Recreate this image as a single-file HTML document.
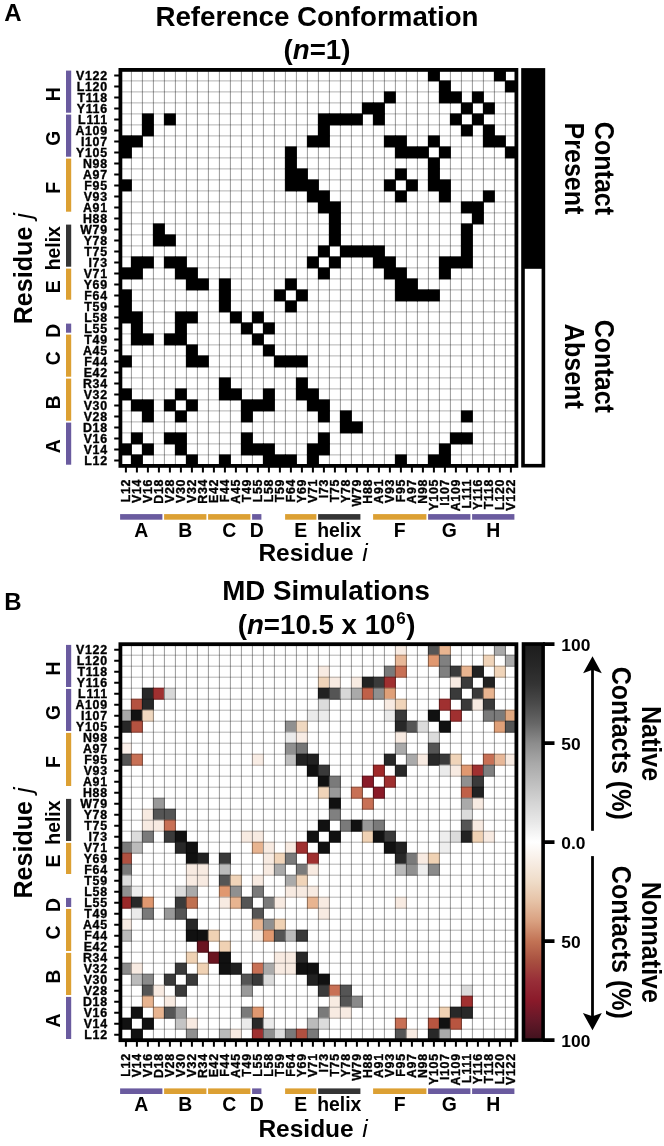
<!DOCTYPE html>
<html><head><meta charset="utf-8"><title>Contact maps</title>
<style>html,body{margin:0;padding:0;background:#fff;width:664px;height:1146px;overflow:hidden}svg{display:block;will-change:transform}text{font-family:"Liberation Sans",sans-serif}</style>
</head><body>
<svg width="664" height="1146" viewBox="0 0 664 1146">
<defs><linearGradient id="cb" x1="0" y1="0" x2="0" y2="1"><stop offset="0" stop-color="#1c1c1c"/><stop offset="0.05" stop-color="#262626"/><stop offset="0.1" stop-color="#333333"/><stop offset="0.15" stop-color="#4a4a4a"/><stop offset="0.2" stop-color="#666666"/><stop offset="0.25" stop-color="#8c8c8c"/><stop offset="0.3" stop-color="#a8a8a8"/><stop offset="0.35" stop-color="#bebebe"/><stop offset="0.4" stop-color="#d4d4d4"/><stop offset="0.45" stop-color="#e8e8e8"/><stop offset="0.5" stop-color="#ffffff"/><stop offset="0.55" stop-color="#f7ede4"/><stop offset="0.6" stop-color="#efdcc8"/><stop offset="0.65" stop-color="#e6c2a6"/><stop offset="0.7" stop-color="#d9a080"/><stop offset="0.75" stop-color="#c27355"/><stop offset="0.8" stop-color="#a85040"/><stop offset="0.85" stop-color="#982e38"/><stop offset="0.9" stop-color="#8a1a2a"/><stop offset="0.95" stop-color="#641828"/><stop offset="1" stop-color="#40121e"/></linearGradient></defs>
<rect x="427.9" y="69.4" width="12" height="12" fill="#000"/>
<rect x="493.9" y="69.4" width="12" height="12" fill="#000"/>
<rect x="438.9" y="80.4" width="12" height="12" fill="#000"/>
<rect x="504.9" y="80.4" width="12" height="12" fill="#000"/>
<rect x="383.9" y="91.4" width="12" height="12" fill="#000"/>
<rect x="438.9" y="91.4" width="12" height="12" fill="#000"/>
<rect x="449.9" y="91.4" width="12" height="12" fill="#000"/>
<rect x="471.9" y="91.4" width="12" height="12" fill="#000"/>
<rect x="361.9" y="102.4" width="12" height="12" fill="#000"/>
<rect x="372.9" y="102.4" width="12" height="12" fill="#000"/>
<rect x="460.9" y="102.4" width="12" height="12" fill="#000"/>
<rect x="482.9" y="102.4" width="12" height="12" fill="#000"/>
<rect x="141.9" y="113.4" width="12" height="12" fill="#000"/>
<rect x="163.9" y="113.4" width="12" height="12" fill="#000"/>
<rect x="317.9" y="113.4" width="12" height="12" fill="#000"/>
<rect x="328.9" y="113.4" width="12" height="12" fill="#000"/>
<rect x="339.9" y="113.4" width="12" height="12" fill="#000"/>
<rect x="350.9" y="113.4" width="12" height="12" fill="#000"/>
<rect x="372.9" y="113.4" width="12" height="12" fill="#000"/>
<rect x="449.9" y="113.4" width="12" height="12" fill="#000"/>
<rect x="471.9" y="113.4" width="12" height="12" fill="#000"/>
<rect x="141.9" y="124.4" width="12" height="12" fill="#000"/>
<rect x="317.9" y="124.4" width="12" height="12" fill="#000"/>
<rect x="460.9" y="124.4" width="12" height="12" fill="#000"/>
<rect x="482.9" y="124.4" width="12" height="12" fill="#000"/>
<rect x="119.9" y="135.4" width="12" height="12" fill="#000"/>
<rect x="130.9" y="135.4" width="12" height="12" fill="#000"/>
<rect x="306.9" y="135.4" width="12" height="12" fill="#000"/>
<rect x="317.9" y="135.4" width="12" height="12" fill="#000"/>
<rect x="383.9" y="135.4" width="12" height="12" fill="#000"/>
<rect x="394.9" y="135.4" width="12" height="12" fill="#000"/>
<rect x="427.9" y="135.4" width="12" height="12" fill="#000"/>
<rect x="482.9" y="135.4" width="12" height="12" fill="#000"/>
<rect x="493.9" y="135.4" width="12" height="12" fill="#000"/>
<rect x="119.9" y="146.4" width="12" height="12" fill="#000"/>
<rect x="284.9" y="146.4" width="12" height="12" fill="#000"/>
<rect x="394.9" y="146.4" width="12" height="12" fill="#000"/>
<rect x="405.9" y="146.4" width="12" height="12" fill="#000"/>
<rect x="416.9" y="146.4" width="12" height="12" fill="#000"/>
<rect x="438.9" y="146.4" width="12" height="12" fill="#000"/>
<rect x="504.9" y="146.4" width="12" height="12" fill="#000"/>
<rect x="284.9" y="157.4" width="12" height="12" fill="#000"/>
<rect x="427.9" y="157.4" width="12" height="12" fill="#000"/>
<rect x="284.9" y="168.4" width="12" height="12" fill="#000"/>
<rect x="295.9" y="168.4" width="12" height="12" fill="#000"/>
<rect x="394.9" y="168.4" width="12" height="12" fill="#000"/>
<rect x="427.9" y="168.4" width="12" height="12" fill="#000"/>
<rect x="119.9" y="179.4" width="12" height="12" fill="#000"/>
<rect x="284.9" y="179.4" width="12" height="12" fill="#000"/>
<rect x="295.9" y="179.4" width="12" height="12" fill="#000"/>
<rect x="306.9" y="179.4" width="12" height="12" fill="#000"/>
<rect x="383.9" y="179.4" width="12" height="12" fill="#000"/>
<rect x="405.9" y="179.4" width="12" height="12" fill="#000"/>
<rect x="427.9" y="179.4" width="12" height="12" fill="#000"/>
<rect x="438.9" y="179.4" width="12" height="12" fill="#000"/>
<rect x="306.9" y="190.4" width="12" height="12" fill="#000"/>
<rect x="317.9" y="190.4" width="12" height="12" fill="#000"/>
<rect x="394.9" y="190.4" width="12" height="12" fill="#000"/>
<rect x="438.9" y="190.4" width="12" height="12" fill="#000"/>
<rect x="482.9" y="190.4" width="12" height="12" fill="#000"/>
<rect x="317.9" y="201.4" width="12" height="12" fill="#000"/>
<rect x="328.9" y="201.4" width="12" height="12" fill="#000"/>
<rect x="460.9" y="201.4" width="12" height="12" fill="#000"/>
<rect x="471.9" y="201.4" width="12" height="12" fill="#000"/>
<rect x="328.9" y="212.4" width="12" height="12" fill="#000"/>
<rect x="471.9" y="212.4" width="12" height="12" fill="#000"/>
<rect x="152.9" y="223.4" width="12" height="12" fill="#000"/>
<rect x="328.9" y="223.4" width="12" height="12" fill="#000"/>
<rect x="460.9" y="223.4" width="12" height="12" fill="#000"/>
<rect x="152.9" y="234.4" width="12" height="12" fill="#000"/>
<rect x="163.9" y="234.4" width="12" height="12" fill="#000"/>
<rect x="328.9" y="234.4" width="12" height="12" fill="#000"/>
<rect x="460.9" y="234.4" width="12" height="12" fill="#000"/>
<rect x="317.9" y="245.4" width="12" height="12" fill="#000"/>
<rect x="339.9" y="245.4" width="12" height="12" fill="#000"/>
<rect x="350.9" y="245.4" width="12" height="12" fill="#000"/>
<rect x="361.9" y="245.4" width="12" height="12" fill="#000"/>
<rect x="372.9" y="245.4" width="12" height="12" fill="#000"/>
<rect x="460.9" y="245.4" width="12" height="12" fill="#000"/>
<rect x="130.9" y="256.4" width="12" height="12" fill="#000"/>
<rect x="141.9" y="256.4" width="12" height="12" fill="#000"/>
<rect x="163.9" y="256.4" width="12" height="12" fill="#000"/>
<rect x="174.9" y="256.4" width="12" height="12" fill="#000"/>
<rect x="306.9" y="256.4" width="12" height="12" fill="#000"/>
<rect x="328.9" y="256.4" width="12" height="12" fill="#000"/>
<rect x="372.9" y="256.4" width="12" height="12" fill="#000"/>
<rect x="383.9" y="256.4" width="12" height="12" fill="#000"/>
<rect x="438.9" y="256.4" width="12" height="12" fill="#000"/>
<rect x="449.9" y="256.4" width="12" height="12" fill="#000"/>
<rect x="460.9" y="256.4" width="12" height="12" fill="#000"/>
<rect x="119.9" y="267.4" width="12" height="12" fill="#000"/>
<rect x="130.9" y="267.4" width="12" height="12" fill="#000"/>
<rect x="174.9" y="267.4" width="12" height="12" fill="#000"/>
<rect x="185.9" y="267.4" width="12" height="12" fill="#000"/>
<rect x="317.9" y="267.4" width="12" height="12" fill="#000"/>
<rect x="383.9" y="267.4" width="12" height="12" fill="#000"/>
<rect x="394.9" y="267.4" width="12" height="12" fill="#000"/>
<rect x="438.9" y="267.4" width="12" height="12" fill="#000"/>
<rect x="185.9" y="278.4" width="12" height="12" fill="#000"/>
<rect x="196.9" y="278.4" width="12" height="12" fill="#000"/>
<rect x="218.9" y="278.4" width="12" height="12" fill="#000"/>
<rect x="284.9" y="278.4" width="12" height="12" fill="#000"/>
<rect x="394.9" y="278.4" width="12" height="12" fill="#000"/>
<rect x="405.9" y="278.4" width="12" height="12" fill="#000"/>
<rect x="119.9" y="289.4" width="12" height="12" fill="#000"/>
<rect x="218.9" y="289.4" width="12" height="12" fill="#000"/>
<rect x="273.9" y="289.4" width="12" height="12" fill="#000"/>
<rect x="295.9" y="289.4" width="12" height="12" fill="#000"/>
<rect x="394.9" y="289.4" width="12" height="12" fill="#000"/>
<rect x="405.9" y="289.4" width="12" height="12" fill="#000"/>
<rect x="416.9" y="289.4" width="12" height="12" fill="#000"/>
<rect x="427.9" y="289.4" width="12" height="12" fill="#000"/>
<rect x="119.9" y="300.4" width="12" height="12" fill="#000"/>
<rect x="218.9" y="300.4" width="12" height="12" fill="#000"/>
<rect x="284.9" y="300.4" width="12" height="12" fill="#000"/>
<rect x="119.9" y="311.4" width="12" height="12" fill="#000"/>
<rect x="130.9" y="311.4" width="12" height="12" fill="#000"/>
<rect x="174.9" y="311.4" width="12" height="12" fill="#000"/>
<rect x="185.9" y="311.4" width="12" height="12" fill="#000"/>
<rect x="229.9" y="311.4" width="12" height="12" fill="#000"/>
<rect x="251.9" y="311.4" width="12" height="12" fill="#000"/>
<rect x="130.9" y="322.4" width="12" height="12" fill="#000"/>
<rect x="174.9" y="322.4" width="12" height="12" fill="#000"/>
<rect x="240.9" y="322.4" width="12" height="12" fill="#000"/>
<rect x="262.9" y="322.4" width="12" height="12" fill="#000"/>
<rect x="130.9" y="333.4" width="12" height="12" fill="#000"/>
<rect x="141.9" y="333.4" width="12" height="12" fill="#000"/>
<rect x="163.9" y="333.4" width="12" height="12" fill="#000"/>
<rect x="174.9" y="333.4" width="12" height="12" fill="#000"/>
<rect x="251.9" y="333.4" width="12" height="12" fill="#000"/>
<rect x="185.9" y="344.4" width="12" height="12" fill="#000"/>
<rect x="262.9" y="344.4" width="12" height="12" fill="#000"/>
<rect x="119.9" y="355.4" width="12" height="12" fill="#000"/>
<rect x="185.9" y="355.4" width="12" height="12" fill="#000"/>
<rect x="196.9" y="355.4" width="12" height="12" fill="#000"/>
<rect x="273.9" y="355.4" width="12" height="12" fill="#000"/>
<rect x="284.9" y="355.4" width="12" height="12" fill="#000"/>
<rect x="295.9" y="355.4" width="12" height="12" fill="#000"/>
<rect x="218.9" y="377.4" width="12" height="12" fill="#000"/>
<rect x="295.9" y="377.4" width="12" height="12" fill="#000"/>
<rect x="119.9" y="388.4" width="12" height="12" fill="#000"/>
<rect x="174.9" y="388.4" width="12" height="12" fill="#000"/>
<rect x="218.9" y="388.4" width="12" height="12" fill="#000"/>
<rect x="229.9" y="388.4" width="12" height="12" fill="#000"/>
<rect x="262.9" y="388.4" width="12" height="12" fill="#000"/>
<rect x="295.9" y="388.4" width="12" height="12" fill="#000"/>
<rect x="306.9" y="388.4" width="12" height="12" fill="#000"/>
<rect x="130.9" y="399.4" width="12" height="12" fill="#000"/>
<rect x="141.9" y="399.4" width="12" height="12" fill="#000"/>
<rect x="163.9" y="399.4" width="12" height="12" fill="#000"/>
<rect x="185.9" y="399.4" width="12" height="12" fill="#000"/>
<rect x="240.9" y="399.4" width="12" height="12" fill="#000"/>
<rect x="251.9" y="399.4" width="12" height="12" fill="#000"/>
<rect x="262.9" y="399.4" width="12" height="12" fill="#000"/>
<rect x="306.9" y="399.4" width="12" height="12" fill="#000"/>
<rect x="317.9" y="399.4" width="12" height="12" fill="#000"/>
<rect x="141.9" y="410.4" width="12" height="12" fill="#000"/>
<rect x="174.9" y="410.4" width="12" height="12" fill="#000"/>
<rect x="240.9" y="410.4" width="12" height="12" fill="#000"/>
<rect x="317.9" y="410.4" width="12" height="12" fill="#000"/>
<rect x="339.9" y="410.4" width="12" height="12" fill="#000"/>
<rect x="460.9" y="410.4" width="12" height="12" fill="#000"/>
<rect x="339.9" y="421.4" width="12" height="12" fill="#000"/>
<rect x="350.9" y="421.4" width="12" height="12" fill="#000"/>
<rect x="130.9" y="432.4" width="12" height="12" fill="#000"/>
<rect x="163.9" y="432.4" width="12" height="12" fill="#000"/>
<rect x="174.9" y="432.4" width="12" height="12" fill="#000"/>
<rect x="240.9" y="432.4" width="12" height="12" fill="#000"/>
<rect x="317.9" y="432.4" width="12" height="12" fill="#000"/>
<rect x="449.9" y="432.4" width="12" height="12" fill="#000"/>
<rect x="460.9" y="432.4" width="12" height="12" fill="#000"/>
<rect x="119.9" y="443.4" width="12" height="12" fill="#000"/>
<rect x="141.9" y="443.4" width="12" height="12" fill="#000"/>
<rect x="174.9" y="443.4" width="12" height="12" fill="#000"/>
<rect x="240.9" y="443.4" width="12" height="12" fill="#000"/>
<rect x="251.9" y="443.4" width="12" height="12" fill="#000"/>
<rect x="262.9" y="443.4" width="12" height="12" fill="#000"/>
<rect x="306.9" y="443.4" width="12" height="12" fill="#000"/>
<rect x="317.9" y="443.4" width="12" height="12" fill="#000"/>
<rect x="438.9" y="443.4" width="12" height="12" fill="#000"/>
<rect x="130.9" y="454.4" width="12" height="12" fill="#000"/>
<rect x="185.9" y="454.4" width="12" height="12" fill="#000"/>
<rect x="218.9" y="454.4" width="12" height="12" fill="#000"/>
<rect x="262.9" y="454.4" width="12" height="12" fill="#000"/>
<rect x="273.9" y="454.4" width="12" height="12" fill="#000"/>
<rect x="284.9" y="454.4" width="12" height="12" fill="#000"/>
<rect x="306.9" y="454.4" width="12" height="12" fill="#000"/>
<rect x="394.9" y="454.4" width="12" height="12" fill="#000"/>
<rect x="427.9" y="454.4" width="12" height="12" fill="#000"/>
<rect x="438.9" y="454.4" width="12" height="12" fill="#000"/>
<path d="M131.4 69.9V465.9M142.4 69.9V465.9M153.4 69.9V465.9M164.4 69.9V465.9M175.4 69.9V465.9M186.4 69.9V465.9M197.4 69.9V465.9M208.4 69.9V465.9M219.4 69.9V465.9M230.4 69.9V465.9M241.4 69.9V465.9M252.4 69.9V465.9M263.4 69.9V465.9M274.4 69.9V465.9M285.4 69.9V465.9M296.4 69.9V465.9M307.4 69.9V465.9M318.4 69.9V465.9M329.4 69.9V465.9M340.4 69.9V465.9M351.4 69.9V465.9M362.4 69.9V465.9M373.4 69.9V465.9M384.4 69.9V465.9M395.4 69.9V465.9M406.4 69.9V465.9M417.4 69.9V465.9M428.4 69.9V465.9M439.4 69.9V465.9M450.4 69.9V465.9M461.4 69.9V465.9M472.4 69.9V465.9M483.4 69.9V465.9M494.4 69.9V465.9M505.4 69.9V465.9" stroke="#000" stroke-opacity="0.45" stroke-width="0.9" fill="none"/>
<path d="M120.4 80.9H516.4M120.4 91.9H516.4M120.4 102.9H516.4M120.4 113.9H516.4M120.4 124.9H516.4M120.4 135.9H516.4M120.4 146.9H516.4M120.4 157.9H516.4M120.4 168.9H516.4M120.4 179.9H516.4M120.4 190.9H516.4M120.4 201.9H516.4M120.4 212.9H516.4M120.4 223.9H516.4M120.4 234.9H516.4M120.4 245.9H516.4M120.4 256.9H516.4M120.4 267.9H516.4M120.4 278.9H516.4M120.4 289.9H516.4M120.4 300.9H516.4M120.4 311.9H516.4M120.4 322.9H516.4M120.4 333.9H516.4M120.4 344.9H516.4M120.4 355.9H516.4M120.4 366.9H516.4M120.4 377.9H516.4M120.4 388.9H516.4M120.4 399.9H516.4M120.4 410.9H516.4M120.4 421.9H516.4M120.4 432.9H516.4M120.4 443.9H516.4M120.4 454.9H516.4" stroke="#000" stroke-opacity="0.34" stroke-width="0.9" fill="none"/>
<rect x="120.4" y="69.9" width="396" height="396" fill="none" stroke="#000" stroke-width="3.8"/>
<path d="M114.2 75.4H120.4M125.9 465.9V472.4M114.2 86.4H120.4M136.9 465.9V472.4M114.2 97.4H120.4M147.9 465.9V472.4M114.2 108.4H120.4M158.9 465.9V472.4M114.2 119.4H120.4M169.9 465.9V472.4M114.2 130.4H120.4M180.9 465.9V472.4M114.2 141.4H120.4M191.9 465.9V472.4M114.2 152.4H120.4M202.9 465.9V472.4M114.2 163.4H120.4M213.9 465.9V472.4M114.2 174.4H120.4M224.9 465.9V472.4M114.2 185.4H120.4M235.9 465.9V472.4M114.2 196.4H120.4M246.9 465.9V472.4M114.2 207.4H120.4M257.9 465.9V472.4M114.2 218.4H120.4M268.9 465.9V472.4M114.2 229.4H120.4M279.9 465.9V472.4M114.2 240.4H120.4M290.9 465.9V472.4M114.2 251.4H120.4M301.9 465.9V472.4M114.2 262.4H120.4M312.9 465.9V472.4M114.2 273.4H120.4M323.9 465.9V472.4M114.2 284.4H120.4M334.9 465.9V472.4M114.2 295.4H120.4M345.9 465.9V472.4M114.2 306.4H120.4M356.9 465.9V472.4M114.2 317.4H120.4M367.9 465.9V472.4M114.2 328.4H120.4M378.9 465.9V472.4M114.2 339.4H120.4M389.9 465.9V472.4M114.2 350.4H120.4M400.9 465.9V472.4M114.2 361.4H120.4M411.9 465.9V472.4M114.2 372.4H120.4M422.9 465.9V472.4M114.2 383.4H120.4M433.9 465.9V472.4M114.2 394.4H120.4M444.9 465.9V472.4M114.2 405.4H120.4M455.9 465.9V472.4M114.2 416.4H120.4M466.9 465.9V472.4M114.2 427.4H120.4M477.9 465.9V472.4M114.2 438.4H120.4M488.9 465.9V472.4M114.2 449.4H120.4M499.9 465.9V472.4M114.2 460.4H120.4M510.9 465.9V472.4" stroke="#000" stroke-width="2"/>
<text x="107.8" y="79.75" text-anchor="end" font-family="Liberation Sans" font-weight="bold" font-size="12.4" letter-spacing="0.7" stroke="#000" stroke-width="0.35">V122</text>
<text x="107.8" y="90.75" text-anchor="end" font-family="Liberation Sans" font-weight="bold" font-size="12.4" letter-spacing="0.7" stroke="#000" stroke-width="0.35">L120</text>
<text x="107.8" y="101.75" text-anchor="end" font-family="Liberation Sans" font-weight="bold" font-size="12.4" letter-spacing="0.7" stroke="#000" stroke-width="0.35">T118</text>
<text x="107.8" y="112.75" text-anchor="end" font-family="Liberation Sans" font-weight="bold" font-size="12.4" letter-spacing="0.7" stroke="#000" stroke-width="0.35">Y116</text>
<text x="107.8" y="123.75" text-anchor="end" font-family="Liberation Sans" font-weight="bold" font-size="12.4" letter-spacing="0.7" stroke="#000" stroke-width="0.35">L111</text>
<text x="107.8" y="134.75" text-anchor="end" font-family="Liberation Sans" font-weight="bold" font-size="12.4" letter-spacing="0.7" stroke="#000" stroke-width="0.35">A109</text>
<text x="107.8" y="145.75" text-anchor="end" font-family="Liberation Sans" font-weight="bold" font-size="12.4" letter-spacing="0.7" stroke="#000" stroke-width="0.35">I107</text>
<text x="107.8" y="156.75" text-anchor="end" font-family="Liberation Sans" font-weight="bold" font-size="12.4" letter-spacing="0.7" stroke="#000" stroke-width="0.35">Y105</text>
<text x="107.8" y="167.75" text-anchor="end" font-family="Liberation Sans" font-weight="bold" font-size="12.4" letter-spacing="0.7" stroke="#000" stroke-width="0.35">N98</text>
<text x="107.8" y="178.75" text-anchor="end" font-family="Liberation Sans" font-weight="bold" font-size="12.4" letter-spacing="0.7" stroke="#000" stroke-width="0.35">A97</text>
<text x="107.8" y="189.75" text-anchor="end" font-family="Liberation Sans" font-weight="bold" font-size="12.4" letter-spacing="0.7" stroke="#000" stroke-width="0.35">F95</text>
<text x="107.8" y="200.75" text-anchor="end" font-family="Liberation Sans" font-weight="bold" font-size="12.4" letter-spacing="0.7" stroke="#000" stroke-width="0.35">V93</text>
<text x="107.8" y="211.75" text-anchor="end" font-family="Liberation Sans" font-weight="bold" font-size="12.4" letter-spacing="0.7" stroke="#000" stroke-width="0.35">A91</text>
<text x="107.8" y="222.75" text-anchor="end" font-family="Liberation Sans" font-weight="bold" font-size="12.4" letter-spacing="0.7" stroke="#000" stroke-width="0.35">H88</text>
<text x="107.8" y="233.75" text-anchor="end" font-family="Liberation Sans" font-weight="bold" font-size="12.4" letter-spacing="0.7" stroke="#000" stroke-width="0.35">W79</text>
<text x="107.8" y="244.75" text-anchor="end" font-family="Liberation Sans" font-weight="bold" font-size="12.4" letter-spacing="0.7" stroke="#000" stroke-width="0.35">Y78</text>
<text x="107.8" y="255.75" text-anchor="end" font-family="Liberation Sans" font-weight="bold" font-size="12.4" letter-spacing="0.7" stroke="#000" stroke-width="0.35">T75</text>
<text x="107.8" y="266.75" text-anchor="end" font-family="Liberation Sans" font-weight="bold" font-size="12.4" letter-spacing="0.7" stroke="#000" stroke-width="0.35">I73</text>
<text x="107.8" y="277.75" text-anchor="end" font-family="Liberation Sans" font-weight="bold" font-size="12.4" letter-spacing="0.7" stroke="#000" stroke-width="0.35">V71</text>
<text x="107.8" y="288.75" text-anchor="end" font-family="Liberation Sans" font-weight="bold" font-size="12.4" letter-spacing="0.7" stroke="#000" stroke-width="0.35">Y69</text>
<text x="107.8" y="299.75" text-anchor="end" font-family="Liberation Sans" font-weight="bold" font-size="12.4" letter-spacing="0.7" stroke="#000" stroke-width="0.35">F64</text>
<text x="107.8" y="310.75" text-anchor="end" font-family="Liberation Sans" font-weight="bold" font-size="12.4" letter-spacing="0.7" stroke="#000" stroke-width="0.35">T59</text>
<text x="107.8" y="321.75" text-anchor="end" font-family="Liberation Sans" font-weight="bold" font-size="12.4" letter-spacing="0.7" stroke="#000" stroke-width="0.35">L58</text>
<text x="107.8" y="332.75" text-anchor="end" font-family="Liberation Sans" font-weight="bold" font-size="12.4" letter-spacing="0.7" stroke="#000" stroke-width="0.35">L55</text>
<text x="107.8" y="343.75" text-anchor="end" font-family="Liberation Sans" font-weight="bold" font-size="12.4" letter-spacing="0.7" stroke="#000" stroke-width="0.35">T49</text>
<text x="107.8" y="354.75" text-anchor="end" font-family="Liberation Sans" font-weight="bold" font-size="12.4" letter-spacing="0.7" stroke="#000" stroke-width="0.35">A45</text>
<text x="107.8" y="365.75" text-anchor="end" font-family="Liberation Sans" font-weight="bold" font-size="12.4" letter-spacing="0.7" stroke="#000" stroke-width="0.35">F44</text>
<text x="107.8" y="376.75" text-anchor="end" font-family="Liberation Sans" font-weight="bold" font-size="12.4" letter-spacing="0.7" stroke="#000" stroke-width="0.35">E42</text>
<text x="107.8" y="387.75" text-anchor="end" font-family="Liberation Sans" font-weight="bold" font-size="12.4" letter-spacing="0.7" stroke="#000" stroke-width="0.35">R34</text>
<text x="107.8" y="398.75" text-anchor="end" font-family="Liberation Sans" font-weight="bold" font-size="12.4" letter-spacing="0.7" stroke="#000" stroke-width="0.35">V32</text>
<text x="107.8" y="409.75" text-anchor="end" font-family="Liberation Sans" font-weight="bold" font-size="12.4" letter-spacing="0.7" stroke="#000" stroke-width="0.35">V30</text>
<text x="107.8" y="420.75" text-anchor="end" font-family="Liberation Sans" font-weight="bold" font-size="12.4" letter-spacing="0.7" stroke="#000" stroke-width="0.35">V28</text>
<text x="107.8" y="431.75" text-anchor="end" font-family="Liberation Sans" font-weight="bold" font-size="12.4" letter-spacing="0.7" stroke="#000" stroke-width="0.35">D18</text>
<text x="107.8" y="442.75" text-anchor="end" font-family="Liberation Sans" font-weight="bold" font-size="12.4" letter-spacing="0.7" stroke="#000" stroke-width="0.35">V16</text>
<text x="107.8" y="453.75" text-anchor="end" font-family="Liberation Sans" font-weight="bold" font-size="12.4" letter-spacing="0.7" stroke="#000" stroke-width="0.35">V14</text>
<text x="107.8" y="464.75" text-anchor="end" font-family="Liberation Sans" font-weight="bold" font-size="12.4" letter-spacing="0.7" stroke="#000" stroke-width="0.35">L12</text>
<text transform="translate(130.3 478.9) rotate(-90)" text-anchor="end" font-family="Liberation Sans" font-weight="bold" font-size="12.4" letter-spacing="0.7" stroke="#000" stroke-width="0.35">L12</text>
<text transform="translate(141.3 478.9) rotate(-90)" text-anchor="end" font-family="Liberation Sans" font-weight="bold" font-size="12.4" letter-spacing="0.7" stroke="#000" stroke-width="0.35">V14</text>
<text transform="translate(152.3 478.9) rotate(-90)" text-anchor="end" font-family="Liberation Sans" font-weight="bold" font-size="12.4" letter-spacing="0.7" stroke="#000" stroke-width="0.35">V16</text>
<text transform="translate(163.3 478.9) rotate(-90)" text-anchor="end" font-family="Liberation Sans" font-weight="bold" font-size="12.4" letter-spacing="0.7" stroke="#000" stroke-width="0.35">D18</text>
<text transform="translate(174.3 478.9) rotate(-90)" text-anchor="end" font-family="Liberation Sans" font-weight="bold" font-size="12.4" letter-spacing="0.7" stroke="#000" stroke-width="0.35">V28</text>
<text transform="translate(185.3 478.9) rotate(-90)" text-anchor="end" font-family="Liberation Sans" font-weight="bold" font-size="12.4" letter-spacing="0.7" stroke="#000" stroke-width="0.35">V30</text>
<text transform="translate(196.3 478.9) rotate(-90)" text-anchor="end" font-family="Liberation Sans" font-weight="bold" font-size="12.4" letter-spacing="0.7" stroke="#000" stroke-width="0.35">V32</text>
<text transform="translate(207.3 478.9) rotate(-90)" text-anchor="end" font-family="Liberation Sans" font-weight="bold" font-size="12.4" letter-spacing="0.7" stroke="#000" stroke-width="0.35">R34</text>
<text transform="translate(218.3 478.9) rotate(-90)" text-anchor="end" font-family="Liberation Sans" font-weight="bold" font-size="12.4" letter-spacing="0.7" stroke="#000" stroke-width="0.35">E42</text>
<text transform="translate(229.3 478.9) rotate(-90)" text-anchor="end" font-family="Liberation Sans" font-weight="bold" font-size="12.4" letter-spacing="0.7" stroke="#000" stroke-width="0.35">F44</text>
<text transform="translate(240.3 478.9) rotate(-90)" text-anchor="end" font-family="Liberation Sans" font-weight="bold" font-size="12.4" letter-spacing="0.7" stroke="#000" stroke-width="0.35">A45</text>
<text transform="translate(251.3 478.9) rotate(-90)" text-anchor="end" font-family="Liberation Sans" font-weight="bold" font-size="12.4" letter-spacing="0.7" stroke="#000" stroke-width="0.35">T49</text>
<text transform="translate(262.3 478.9) rotate(-90)" text-anchor="end" font-family="Liberation Sans" font-weight="bold" font-size="12.4" letter-spacing="0.7" stroke="#000" stroke-width="0.35">L55</text>
<text transform="translate(273.3 478.9) rotate(-90)" text-anchor="end" font-family="Liberation Sans" font-weight="bold" font-size="12.4" letter-spacing="0.7" stroke="#000" stroke-width="0.35">L58</text>
<text transform="translate(284.3 478.9) rotate(-90)" text-anchor="end" font-family="Liberation Sans" font-weight="bold" font-size="12.4" letter-spacing="0.7" stroke="#000" stroke-width="0.35">T59</text>
<text transform="translate(295.3 478.9) rotate(-90)" text-anchor="end" font-family="Liberation Sans" font-weight="bold" font-size="12.4" letter-spacing="0.7" stroke="#000" stroke-width="0.35">F64</text>
<text transform="translate(306.3 478.9) rotate(-90)" text-anchor="end" font-family="Liberation Sans" font-weight="bold" font-size="12.4" letter-spacing="0.7" stroke="#000" stroke-width="0.35">Y69</text>
<text transform="translate(317.3 478.9) rotate(-90)" text-anchor="end" font-family="Liberation Sans" font-weight="bold" font-size="12.4" letter-spacing="0.7" stroke="#000" stroke-width="0.35">V71</text>
<text transform="translate(328.3 478.9) rotate(-90)" text-anchor="end" font-family="Liberation Sans" font-weight="bold" font-size="12.4" letter-spacing="0.7" stroke="#000" stroke-width="0.35">I73</text>
<text transform="translate(339.3 478.9) rotate(-90)" text-anchor="end" font-family="Liberation Sans" font-weight="bold" font-size="12.4" letter-spacing="0.7" stroke="#000" stroke-width="0.35">T75</text>
<text transform="translate(350.3 478.9) rotate(-90)" text-anchor="end" font-family="Liberation Sans" font-weight="bold" font-size="12.4" letter-spacing="0.7" stroke="#000" stroke-width="0.35">Y78</text>
<text transform="translate(361.3 478.9) rotate(-90)" text-anchor="end" font-family="Liberation Sans" font-weight="bold" font-size="12.4" letter-spacing="0.7" stroke="#000" stroke-width="0.35">W79</text>
<text transform="translate(372.3 478.9) rotate(-90)" text-anchor="end" font-family="Liberation Sans" font-weight="bold" font-size="12.4" letter-spacing="0.7" stroke="#000" stroke-width="0.35">H88</text>
<text transform="translate(383.3 478.9) rotate(-90)" text-anchor="end" font-family="Liberation Sans" font-weight="bold" font-size="12.4" letter-spacing="0.7" stroke="#000" stroke-width="0.35">A91</text>
<text transform="translate(394.3 478.9) rotate(-90)" text-anchor="end" font-family="Liberation Sans" font-weight="bold" font-size="12.4" letter-spacing="0.7" stroke="#000" stroke-width="0.35">V93</text>
<text transform="translate(405.3 478.9) rotate(-90)" text-anchor="end" font-family="Liberation Sans" font-weight="bold" font-size="12.4" letter-spacing="0.7" stroke="#000" stroke-width="0.35">F95</text>
<text transform="translate(416.3 478.9) rotate(-90)" text-anchor="end" font-family="Liberation Sans" font-weight="bold" font-size="12.4" letter-spacing="0.7" stroke="#000" stroke-width="0.35">A97</text>
<text transform="translate(427.3 478.9) rotate(-90)" text-anchor="end" font-family="Liberation Sans" font-weight="bold" font-size="12.4" letter-spacing="0.7" stroke="#000" stroke-width="0.35">N98</text>
<text transform="translate(438.3 478.9) rotate(-90)" text-anchor="end" font-family="Liberation Sans" font-weight="bold" font-size="12.4" letter-spacing="0.7" stroke="#000" stroke-width="0.35">Y105</text>
<text transform="translate(449.3 478.9) rotate(-90)" text-anchor="end" font-family="Liberation Sans" font-weight="bold" font-size="12.4" letter-spacing="0.7" stroke="#000" stroke-width="0.35">I107</text>
<text transform="translate(460.3 478.9) rotate(-90)" text-anchor="end" font-family="Liberation Sans" font-weight="bold" font-size="12.4" letter-spacing="0.7" stroke="#000" stroke-width="0.35">A109</text>
<text transform="translate(471.3 478.9) rotate(-90)" text-anchor="end" font-family="Liberation Sans" font-weight="bold" font-size="12.4" letter-spacing="0.7" stroke="#000" stroke-width="0.35">L111</text>
<text transform="translate(482.3 478.9) rotate(-90)" text-anchor="end" font-family="Liberation Sans" font-weight="bold" font-size="12.4" letter-spacing="0.7" stroke="#000" stroke-width="0.35">Y116</text>
<text transform="translate(493.3 478.9) rotate(-90)" text-anchor="end" font-family="Liberation Sans" font-weight="bold" font-size="12.4" letter-spacing="0.7" stroke="#000" stroke-width="0.35">T118</text>
<text transform="translate(504.3 478.9) rotate(-90)" text-anchor="end" font-family="Liberation Sans" font-weight="bold" font-size="12.4" letter-spacing="0.7" stroke="#000" stroke-width="0.35">L120</text>
<text transform="translate(515.3 478.9) rotate(-90)" text-anchor="end" font-family="Liberation Sans" font-weight="bold" font-size="12.4" letter-spacing="0.7" stroke="#000" stroke-width="0.35">V122</text>
<rect x="120.1" y="514.1" width="42.3" height="5.6" fill="#6a5b9f"/>
<text x="141.25" y="536.7" text-anchor="middle" font-family="Liberation Sans" font-weight="bold" font-size="19.4">A</text>
<rect x="66" y="422.6" width="5.2" height="42.1" fill="#6a5b9f"/>
<text transform="translate(60.2 446.25) rotate(-90)" text-anchor="middle" font-family="Liberation Sans" font-weight="bold" font-size="19.4">A</text>
<rect x="164.1" y="514.1" width="42.3" height="5.6" fill="#dca033"/>
<text x="185.25" y="536.7" text-anchor="middle" font-family="Liberation Sans" font-weight="bold" font-size="19.4">B</text>
<rect x="66" y="378.6" width="5.2" height="42.1" fill="#dca033"/>
<text transform="translate(60.2 402.25) rotate(-90)" text-anchor="middle" font-family="Liberation Sans" font-weight="bold" font-size="19.4">B</text>
<rect x="208.1" y="514.1" width="42.3" height="5.6" fill="#dca033"/>
<text x="229.25" y="536.7" text-anchor="middle" font-family="Liberation Sans" font-weight="bold" font-size="19.4">C</text>
<rect x="66" y="334.6" width="5.2" height="42.1" fill="#dca033"/>
<text transform="translate(60.2 358.25) rotate(-90)" text-anchor="middle" font-family="Liberation Sans" font-weight="bold" font-size="19.4">C</text>
<rect x="252.1" y="514.1" width="9.3" height="5.6" fill="#6a5b9f"/>
<text x="256.75" y="536.7" text-anchor="middle" font-family="Liberation Sans" font-weight="bold" font-size="19.4">D</text>
<rect x="66" y="323.6" width="5.2" height="9.1" fill="#6a5b9f"/>
<text transform="translate(60.2 330.75) rotate(-90)" text-anchor="middle" font-family="Liberation Sans" font-weight="bold" font-size="19.4">D</text>
<rect x="285.1" y="514.1" width="31.3" height="5.6" fill="#dca033"/>
<text x="300.75" y="536.7" text-anchor="middle" font-family="Liberation Sans" font-weight="bold" font-size="19.4">E</text>
<rect x="66" y="268.6" width="5.2" height="31.1" fill="#dca033"/>
<text transform="translate(60.2 286.75) rotate(-90)" text-anchor="middle" font-family="Liberation Sans" font-weight="bold" font-size="19.4">E</text>
<rect x="318.1" y="514.1" width="42.3" height="5.6" fill="#353535"/>
<text x="339.25" y="536.7" text-anchor="middle" font-family="Liberation Sans" font-weight="bold" font-size="19.4">helix</text>
<rect x="66" y="224.6" width="5.2" height="42.1" fill="#353535"/>
<text transform="translate(60.2 248.25) rotate(-90)" text-anchor="middle" font-family="Liberation Sans" font-weight="bold" font-size="19.4">helix</text>
<rect x="373.1" y="514.1" width="53.3" height="5.6" fill="#dca033"/>
<text x="399.75" y="536.7" text-anchor="middle" font-family="Liberation Sans" font-weight="bold" font-size="19.4">F</text>
<rect x="66" y="158.6" width="5.2" height="53.1" fill="#dca033"/>
<text transform="translate(60.2 187.75) rotate(-90)" text-anchor="middle" font-family="Liberation Sans" font-weight="bold" font-size="19.4">F</text>
<rect x="428.1" y="514.1" width="42.3" height="5.6" fill="#6a5b9f"/>
<text x="449.25" y="536.7" text-anchor="middle" font-family="Liberation Sans" font-weight="bold" font-size="19.4">G</text>
<rect x="66" y="114.6" width="5.2" height="42.1" fill="#6a5b9f"/>
<text transform="translate(60.2 138.25) rotate(-90)" text-anchor="middle" font-family="Liberation Sans" font-weight="bold" font-size="19.4">G</text>
<rect x="472.1" y="514.1" width="42.3" height="5.6" fill="#6a5b9f"/>
<text x="493.25" y="536.7" text-anchor="middle" font-family="Liberation Sans" font-weight="bold" font-size="19.4">H</text>
<rect x="66" y="70.6" width="5.2" height="42.1" fill="#6a5b9f"/>
<text transform="translate(60.2 94.25) rotate(-90)" text-anchor="middle" font-family="Liberation Sans" font-weight="bold" font-size="19.4">H</text>
<text x="258.4" y="560.8" font-family="Liberation Sans" font-weight="bold" font-size="24.5">Residue <tspan dx="1.8" font-style="italic" font-weight="normal">i</tspan></text>
<text transform="translate(31.8 268.7) rotate(-90)" text-anchor="middle" font-family="Liberation Sans" font-weight="bold" font-size="25.1">Residue <tspan dx="1" font-style="italic" font-weight="normal">j</tspan></text>
<rect x="394.9" y="643.7" width="12" height="12" fill="#f8ebe2"/>
<rect x="427.9" y="643.7" width="12" height="12" fill="#555555"/>
<rect x="438.9" y="643.7" width="12" height="12" fill="#e8b490"/>
<rect x="493.9" y="643.7" width="12" height="12" fill="#aaaaaa"/>
<rect x="394.9" y="654.7" width="12" height="12" fill="#e8b898"/>
<rect x="427.9" y="654.7" width="12" height="12" fill="#e09870"/>
<rect x="438.9" y="654.7" width="12" height="12" fill="#808080"/>
<rect x="482.9" y="654.7" width="12" height="12" fill="#f0d4b9"/>
<rect x="504.9" y="654.7" width="12" height="12" fill="#aaaaaa"/>
<rect x="317.9" y="665.7" width="12" height="12" fill="#f8ebe2"/>
<rect x="383.9" y="665.7" width="12" height="12" fill="#7a7a7a"/>
<rect x="394.9" y="665.7" width="12" height="12" fill="#c87055"/>
<rect x="438.9" y="665.7" width="12" height="12" fill="#808080"/>
<rect x="449.9" y="665.7" width="12" height="12" fill="#3a3a3a"/>
<rect x="460.9" y="665.7" width="12" height="12" fill="#e8b490"/>
<rect x="471.9" y="665.7" width="12" height="12" fill="#222222"/>
<rect x="493.9" y="665.7" width="12" height="12" fill="#f0d4b9"/>
<rect x="317.9" y="676.7" width="12" height="12" fill="#f0d4b9"/>
<rect x="328.9" y="676.7" width="12" height="12" fill="#f8ebe2"/>
<rect x="350.9" y="676.7" width="12" height="12" fill="#f8ebe2"/>
<rect x="361.9" y="676.7" width="12" height="12" fill="#222222"/>
<rect x="372.9" y="676.7" width="12" height="12" fill="#3a3a3a"/>
<rect x="383.9" y="676.7" width="12" height="12" fill="#a03030"/>
<rect x="449.9" y="676.7" width="12" height="12" fill="#f8ebe2"/>
<rect x="460.9" y="676.7" width="12" height="12" fill="#3a3a3a"/>
<rect x="482.9" y="676.7" width="12" height="12" fill="#222222"/>
<rect x="141.9" y="687.7" width="12" height="12" fill="#282828"/>
<rect x="152.9" y="687.7" width="12" height="12" fill="#a03030"/>
<rect x="163.9" y="687.7" width="12" height="12" fill="#d8d8d8"/>
<rect x="317.9" y="687.7" width="12" height="12" fill="#222222"/>
<rect x="328.9" y="687.7" width="12" height="12" fill="#555555"/>
<rect x="339.9" y="687.7" width="12" height="12" fill="#d8d8d8"/>
<rect x="350.9" y="687.7" width="12" height="12" fill="#aaaaaa"/>
<rect x="361.9" y="687.7" width="12" height="12" fill="#c06048"/>
<rect x="372.9" y="687.7" width="12" height="12" fill="#909090"/>
<rect x="383.9" y="687.7" width="12" height="12" fill="#e0a078"/>
<rect x="449.9" y="687.7" width="12" height="12" fill="#3a3a3a"/>
<rect x="471.9" y="687.7" width="12" height="12" fill="#3a3a3a"/>
<rect x="482.9" y="687.7" width="12" height="12" fill="#e8b490"/>
<rect x="130.9" y="698.7" width="12" height="12" fill="#b45240"/>
<rect x="141.9" y="698.7" width="12" height="12" fill="#282828"/>
<rect x="317.9" y="698.7" width="12" height="12" fill="#dcdcdc"/>
<rect x="383.9" y="698.7" width="12" height="12" fill="#f8ebe2"/>
<rect x="394.9" y="698.7" width="12" height="12" fill="#f0d4b9"/>
<rect x="438.9" y="698.7" width="12" height="12" fill="#a03030"/>
<rect x="460.9" y="698.7" width="12" height="12" fill="#3a3a3a"/>
<rect x="471.9" y="698.7" width="12" height="12" fill="#f8ebe2"/>
<rect x="482.9" y="698.7" width="12" height="12" fill="#3a3a3a"/>
<rect x="119.9" y="709.7" width="12" height="12" fill="#aaaaaa"/>
<rect x="130.9" y="709.7" width="12" height="12" fill="#111111"/>
<rect x="141.9" y="709.7" width="12" height="12" fill="#f0d8c0"/>
<rect x="306.9" y="709.7" width="12" height="12" fill="#ebebeb"/>
<rect x="317.9" y="709.7" width="12" height="12" fill="#ebebeb"/>
<rect x="383.9" y="709.7" width="12" height="12" fill="#ebebeb"/>
<rect x="394.9" y="709.7" width="12" height="12" fill="#3a3a3a"/>
<rect x="427.9" y="709.7" width="12" height="12" fill="#111111"/>
<rect x="449.9" y="709.7" width="12" height="12" fill="#a03030"/>
<rect x="482.9" y="709.7" width="12" height="12" fill="#7a7a7a"/>
<rect x="493.9" y="709.7" width="12" height="12" fill="#7a7a7a"/>
<rect x="504.9" y="709.7" width="12" height="12" fill="#e0a880"/>
<rect x="119.9" y="720.7" width="12" height="12" fill="#282828"/>
<rect x="130.9" y="720.7" width="12" height="12" fill="#b45240"/>
<rect x="284.9" y="720.7" width="12" height="12" fill="#909090"/>
<rect x="295.9" y="720.7" width="12" height="12" fill="#f0d8c0"/>
<rect x="394.9" y="720.7" width="12" height="12" fill="#282828"/>
<rect x="405.9" y="720.7" width="12" height="12" fill="#555555"/>
<rect x="416.9" y="720.7" width="12" height="12" fill="#dcdcdc"/>
<rect x="438.9" y="720.7" width="12" height="12" fill="#111111"/>
<rect x="493.9" y="720.7" width="12" height="12" fill="#e0a078"/>
<rect x="504.9" y="720.7" width="12" height="12" fill="#555555"/>
<rect x="284.9" y="731.7" width="12" height="12" fill="#ebebeb"/>
<rect x="295.9" y="731.7" width="12" height="12" fill="#f9ede5"/>
<rect x="394.9" y="731.7" width="12" height="12" fill="#f8ebe2"/>
<rect x="427.9" y="731.7" width="12" height="12" fill="#dcdcdc"/>
<rect x="119.9" y="742.7" width="12" height="12" fill="#faf0ea"/>
<rect x="284.9" y="742.7" width="12" height="12" fill="#909090"/>
<rect x="295.9" y="742.7" width="12" height="12" fill="#777777"/>
<rect x="394.9" y="742.7" width="12" height="12" fill="#aaaaaa"/>
<rect x="427.9" y="742.7" width="12" height="12" fill="#555555"/>
<rect x="119.9" y="753.7" width="12" height="12" fill="#555555"/>
<rect x="130.9" y="753.7" width="12" height="12" fill="#c87055"/>
<rect x="251.9" y="753.7" width="12" height="12" fill="#f9ede5"/>
<rect x="284.9" y="753.7" width="12" height="12" fill="#c0c0c0"/>
<rect x="295.9" y="753.7" width="12" height="12" fill="#222222"/>
<rect x="306.9" y="753.7" width="12" height="12" fill="#222222"/>
<rect x="383.9" y="753.7" width="12" height="12" fill="#282828"/>
<rect x="405.9" y="753.7" width="12" height="12" fill="#aaaaaa"/>
<rect x="416.9" y="753.7" width="12" height="12" fill="#f8ebe2"/>
<rect x="427.9" y="753.7" width="12" height="12" fill="#282828"/>
<rect x="438.9" y="753.7" width="12" height="12" fill="#3a3a3a"/>
<rect x="449.9" y="753.7" width="12" height="12" fill="#f0d4b9"/>
<rect x="482.9" y="753.7" width="12" height="12" fill="#c87055"/>
<rect x="493.9" y="753.7" width="12" height="12" fill="#e8b898"/>
<rect x="504.9" y="753.7" width="12" height="12" fill="#f8ebe2"/>
<rect x="306.9" y="764.7" width="12" height="12" fill="#111111"/>
<rect x="317.9" y="764.7" width="12" height="12" fill="#3a3a3a"/>
<rect x="372.9" y="764.7" width="12" height="12" fill="#a02828"/>
<rect x="394.9" y="764.7" width="12" height="12" fill="#282828"/>
<rect x="438.9" y="764.7" width="12" height="12" fill="#ebebeb"/>
<rect x="449.9" y="764.7" width="12" height="12" fill="#f8ebe2"/>
<rect x="460.9" y="764.7" width="12" height="12" fill="#e09870"/>
<rect x="471.9" y="764.7" width="12" height="12" fill="#a03030"/>
<rect x="482.9" y="764.7" width="12" height="12" fill="#808080"/>
<rect x="317.9" y="775.7" width="12" height="12" fill="#111111"/>
<rect x="328.9" y="775.7" width="12" height="12" fill="#7a7a7a"/>
<rect x="361.9" y="775.7" width="12" height="12" fill="#8a1a28"/>
<rect x="383.9" y="775.7" width="12" height="12" fill="#a03030"/>
<rect x="460.9" y="775.7" width="12" height="12" fill="#909090"/>
<rect x="471.9" y="775.7" width="12" height="12" fill="#3a3a3a"/>
<rect x="317.9" y="786.7" width="12" height="12" fill="#f0d4b9"/>
<rect x="328.9" y="786.7" width="12" height="12" fill="#999999"/>
<rect x="350.9" y="786.7" width="12" height="12" fill="#c87055"/>
<rect x="372.9" y="786.7" width="12" height="12" fill="#8a1a28"/>
<rect x="460.9" y="786.7" width="12" height="12" fill="#c06048"/>
<rect x="471.9" y="786.7" width="12" height="12" fill="#222222"/>
<rect x="152.9" y="797.7" width="12" height="12" fill="#999999"/>
<rect x="328.9" y="797.7" width="12" height="12" fill="#111111"/>
<rect x="361.9" y="797.7" width="12" height="12" fill="#c87055"/>
<rect x="460.9" y="797.7" width="12" height="12" fill="#aaaaaa"/>
<rect x="471.9" y="797.7" width="12" height="12" fill="#f8ebe2"/>
<rect x="141.9" y="808.7" width="12" height="12" fill="#f8ebe2"/>
<rect x="152.9" y="808.7" width="12" height="12" fill="#555555"/>
<rect x="163.9" y="808.7" width="12" height="12" fill="#555555"/>
<rect x="328.9" y="808.7" width="12" height="12" fill="#808080"/>
<rect x="460.9" y="808.7" width="12" height="12" fill="#dcdcdc"/>
<rect x="141.9" y="819.7" width="12" height="12" fill="#f8ebe2"/>
<rect x="152.9" y="819.7" width="12" height="12" fill="#f8ebe2"/>
<rect x="163.9" y="819.7" width="12" height="12" fill="#c87055"/>
<rect x="317.9" y="819.7" width="12" height="12" fill="#111111"/>
<rect x="339.9" y="819.7" width="12" height="12" fill="#7a7a7a"/>
<rect x="350.9" y="819.7" width="12" height="12" fill="#111111"/>
<rect x="361.9" y="819.7" width="12" height="12" fill="#999999"/>
<rect x="372.9" y="819.7" width="12" height="12" fill="#7a7a7a"/>
<rect x="460.9" y="819.7" width="12" height="12" fill="#555555"/>
<rect x="471.9" y="819.7" width="12" height="12" fill="#f8ebe2"/>
<rect x="130.9" y="830.7" width="12" height="12" fill="#dcdcdc"/>
<rect x="141.9" y="830.7" width="12" height="12" fill="#7a7a7a"/>
<rect x="163.9" y="830.7" width="12" height="12" fill="#3a3a3a"/>
<rect x="174.9" y="830.7" width="12" height="12" fill="#111111"/>
<rect x="240.9" y="830.7" width="12" height="12" fill="#f8ebe2"/>
<rect x="251.9" y="830.7" width="12" height="12" fill="#f8ebe2"/>
<rect x="306.9" y="830.7" width="12" height="12" fill="#111111"/>
<rect x="328.9" y="830.7" width="12" height="12" fill="#111111"/>
<rect x="361.9" y="830.7" width="12" height="12" fill="#f0d2b4"/>
<rect x="372.9" y="830.7" width="12" height="12" fill="#111111"/>
<rect x="383.9" y="830.7" width="12" height="12" fill="#3a3a3a"/>
<rect x="438.9" y="830.7" width="12" height="12" fill="#eeeeee"/>
<rect x="449.9" y="830.7" width="12" height="12" fill="#dcdcdc"/>
<rect x="460.9" y="830.7" width="12" height="12" fill="#222222"/>
<rect x="471.9" y="830.7" width="12" height="12" fill="#f0d2b4"/>
<rect x="482.9" y="830.7" width="12" height="12" fill="#f8ebe2"/>
<rect x="119.9" y="841.7" width="12" height="12" fill="#7a7a7a"/>
<rect x="130.9" y="841.7" width="12" height="12" fill="#bbbbbb"/>
<rect x="174.9" y="841.7" width="12" height="12" fill="#282828"/>
<rect x="185.9" y="841.7" width="12" height="12" fill="#111111"/>
<rect x="251.9" y="841.7" width="12" height="12" fill="#e8b490"/>
<rect x="262.9" y="841.7" width="12" height="12" fill="#f8ebe2"/>
<rect x="284.9" y="841.7" width="12" height="12" fill="#f8ebe2"/>
<rect x="295.9" y="841.7" width="12" height="12" fill="#a03030"/>
<rect x="317.9" y="841.7" width="12" height="12" fill="#111111"/>
<rect x="383.9" y="841.7" width="12" height="12" fill="#111111"/>
<rect x="394.9" y="841.7" width="12" height="12" fill="#222222"/>
<rect x="438.9" y="841.7" width="12" height="12" fill="#eeeeee"/>
<rect x="119.9" y="852.7" width="12" height="12" fill="#b05040"/>
<rect x="185.9" y="852.7" width="12" height="12" fill="#111111"/>
<rect x="196.9" y="852.7" width="12" height="12" fill="#222222"/>
<rect x="218.9" y="852.7" width="12" height="12" fill="#3a3a3a"/>
<rect x="262.9" y="852.7" width="12" height="12" fill="#f8ebe2"/>
<rect x="273.9" y="852.7" width="12" height="12" fill="#f0d4b9"/>
<rect x="284.9" y="852.7" width="12" height="12" fill="#7a7a7a"/>
<rect x="306.9" y="852.7" width="12" height="12" fill="#a03030"/>
<rect x="394.9" y="852.7" width="12" height="12" fill="#282828"/>
<rect x="405.9" y="852.7" width="12" height="12" fill="#7a7a7a"/>
<rect x="416.9" y="852.7" width="12" height="12" fill="#f8ebe2"/>
<rect x="427.9" y="852.7" width="12" height="12" fill="#f0d2b4"/>
<rect x="119.9" y="863.7" width="12" height="12" fill="#7a7a7a"/>
<rect x="185.9" y="863.7" width="12" height="12" fill="#f8ebe2"/>
<rect x="196.9" y="863.7" width="12" height="12" fill="#f8ebe2"/>
<rect x="218.9" y="863.7" width="12" height="12" fill="#bbbbbb"/>
<rect x="262.9" y="863.7" width="12" height="12" fill="#f8ebe2"/>
<rect x="273.9" y="863.7" width="12" height="12" fill="#aaaaaa"/>
<rect x="295.9" y="863.7" width="12" height="12" fill="#7a7a7a"/>
<rect x="306.9" y="863.7" width="12" height="12" fill="#f8ebe2"/>
<rect x="394.9" y="863.7" width="12" height="12" fill="#bbbbbb"/>
<rect x="405.9" y="863.7" width="12" height="12" fill="#909090"/>
<rect x="416.9" y="863.7" width="12" height="12" fill="#eeeeee"/>
<rect x="427.9" y="863.7" width="12" height="12" fill="#8a8a8a"/>
<rect x="119.9" y="874.7" width="12" height="12" fill="#dcdcdc"/>
<rect x="185.9" y="874.7" width="12" height="12" fill="#f8ebe2"/>
<rect x="196.9" y="874.7" width="12" height="12" fill="#f8ebe2"/>
<rect x="218.9" y="874.7" width="12" height="12" fill="#555555"/>
<rect x="229.9" y="874.7" width="12" height="12" fill="#f0d4b9"/>
<rect x="251.9" y="874.7" width="12" height="12" fill="#f8ebe2"/>
<rect x="284.9" y="874.7" width="12" height="12" fill="#aaaaaa"/>
<rect x="295.9" y="874.7" width="12" height="12" fill="#f0d4b9"/>
<rect x="119.9" y="885.7" width="12" height="12" fill="#909090"/>
<rect x="130.9" y="885.7" width="12" height="12" fill="#eeeeee"/>
<rect x="174.9" y="885.7" width="12" height="12" fill="#dcdcdc"/>
<rect x="185.9" y="885.7" width="12" height="12" fill="#aaaaaa"/>
<rect x="218.9" y="885.7" width="12" height="12" fill="#e09870"/>
<rect x="229.9" y="885.7" width="12" height="12" fill="#909090"/>
<rect x="251.9" y="885.7" width="12" height="12" fill="#7a7a7a"/>
<rect x="284.9" y="885.7" width="12" height="12" fill="#f8ebe2"/>
<rect x="295.9" y="885.7" width="12" height="12" fill="#f8ebe2"/>
<rect x="306.9" y="885.7" width="12" height="12" fill="#f8ebe2"/>
<rect x="119.9" y="896.7" width="12" height="12" fill="#9a2828"/>
<rect x="130.9" y="896.7" width="12" height="12" fill="#282828"/>
<rect x="141.9" y="896.7" width="12" height="12" fill="#e09870"/>
<rect x="174.9" y="896.7" width="12" height="12" fill="#3a3a3a"/>
<rect x="185.9" y="896.7" width="12" height="12" fill="#c07050"/>
<rect x="218.9" y="896.7" width="12" height="12" fill="#f8ebe2"/>
<rect x="229.9" y="896.7" width="12" height="12" fill="#e8b490"/>
<rect x="240.9" y="896.7" width="12" height="12" fill="#555555"/>
<rect x="262.9" y="896.7" width="12" height="12" fill="#7a7a7a"/>
<rect x="273.9" y="896.7" width="12" height="12" fill="#f8ebe2"/>
<rect x="306.9" y="896.7" width="12" height="12" fill="#e8b490"/>
<rect x="317.9" y="896.7" width="12" height="12" fill="#f8ebe2"/>
<rect x="394.9" y="896.7" width="12" height="12" fill="#f8ebe2"/>
<rect x="130.9" y="907.7" width="12" height="12" fill="#ebebeb"/>
<rect x="141.9" y="907.7" width="12" height="12" fill="#7a7a7a"/>
<rect x="163.9" y="907.7" width="12" height="12" fill="#999999"/>
<rect x="174.9" y="907.7" width="12" height="12" fill="#555555"/>
<rect x="251.9" y="907.7" width="12" height="12" fill="#555555"/>
<rect x="317.9" y="907.7" width="12" height="12" fill="#f8ebe2"/>
<rect x="119.9" y="918.7" width="12" height="12" fill="#f8ebe2"/>
<rect x="185.9" y="918.7" width="12" height="12" fill="#282828"/>
<rect x="251.9" y="918.7" width="12" height="12" fill="#e8b490"/>
<rect x="262.9" y="918.7" width="12" height="12" fill="#909090"/>
<rect x="273.9" y="918.7" width="12" height="12" fill="#f0d2b4"/>
<rect x="119.9" y="929.7" width="12" height="12" fill="#bbbbbb"/>
<rect x="185.9" y="929.7" width="12" height="12" fill="#111111"/>
<rect x="196.9" y="929.7" width="12" height="12" fill="#111111"/>
<rect x="207.9" y="929.7" width="12" height="12" fill="#f0d2b4"/>
<rect x="251.9" y="929.7" width="12" height="12" fill="#f8ebe2"/>
<rect x="262.9" y="929.7" width="12" height="12" fill="#e09870"/>
<rect x="273.9" y="929.7" width="12" height="12" fill="#555555"/>
<rect x="284.9" y="929.7" width="12" height="12" fill="#bbbbbb"/>
<rect x="295.9" y="929.7" width="12" height="12" fill="#3a3a3a"/>
<rect x="196.9" y="940.7" width="12" height="12" fill="#6a1420"/>
<rect x="218.9" y="940.7" width="12" height="12" fill="#f0d2b4"/>
<rect x="185.9" y="951.7" width="12" height="12" fill="#f0d2b4"/>
<rect x="207.9" y="951.7" width="12" height="12" fill="#6a1420"/>
<rect x="218.9" y="951.7" width="12" height="12" fill="#111111"/>
<rect x="273.9" y="951.7" width="12" height="12" fill="#f8ebe2"/>
<rect x="284.9" y="951.7" width="12" height="12" fill="#f8ebe2"/>
<rect x="295.9" y="951.7" width="12" height="12" fill="#282828"/>
<rect x="119.9" y="962.7" width="12" height="12" fill="#8a8a8a"/>
<rect x="130.9" y="962.7" width="12" height="12" fill="#f8ebe2"/>
<rect x="174.9" y="962.7" width="12" height="12" fill="#3a3a3a"/>
<rect x="196.9" y="962.7" width="12" height="12" fill="#f0d2b4"/>
<rect x="218.9" y="962.7" width="12" height="12" fill="#111111"/>
<rect x="229.9" y="962.7" width="12" height="12" fill="#222222"/>
<rect x="251.9" y="962.7" width="12" height="12" fill="#c87055"/>
<rect x="262.9" y="962.7" width="12" height="12" fill="#aaaaaa"/>
<rect x="273.9" y="962.7" width="12" height="12" fill="#f8ebe2"/>
<rect x="284.9" y="962.7" width="12" height="12" fill="#f8ebe2"/>
<rect x="295.9" y="962.7" width="12" height="12" fill="#111111"/>
<rect x="306.9" y="962.7" width="12" height="12" fill="#111111"/>
<rect x="130.9" y="973.7" width="12" height="12" fill="#bbbbbb"/>
<rect x="141.9" y="973.7" width="12" height="12" fill="#8a8a8a"/>
<rect x="163.9" y="973.7" width="12" height="12" fill="#3a3a3a"/>
<rect x="185.9" y="973.7" width="12" height="12" fill="#3a3a3a"/>
<rect x="240.9" y="973.7" width="12" height="12" fill="#555555"/>
<rect x="251.9" y="973.7" width="12" height="12" fill="#3a3a3a"/>
<rect x="262.9" y="973.7" width="12" height="12" fill="#dcdcdc"/>
<rect x="306.9" y="973.7" width="12" height="12" fill="#222222"/>
<rect x="317.9" y="973.7" width="12" height="12" fill="#111111"/>
<rect x="141.9" y="984.7" width="12" height="12" fill="#555555"/>
<rect x="152.9" y="984.7" width="12" height="12" fill="#f8ebe2"/>
<rect x="174.9" y="984.7" width="12" height="12" fill="#3a3a3a"/>
<rect x="240.9" y="984.7" width="12" height="12" fill="#999999"/>
<rect x="317.9" y="984.7" width="12" height="12" fill="#3a3a3a"/>
<rect x="328.9" y="984.7" width="12" height="12" fill="#c87055"/>
<rect x="339.9" y="984.7" width="12" height="12" fill="#555555"/>
<rect x="460.9" y="984.7" width="12" height="12" fill="#dcdcdc"/>
<rect x="141.9" y="995.7" width="12" height="12" fill="#e8b490"/>
<rect x="163.9" y="995.7" width="12" height="12" fill="#f8ebe2"/>
<rect x="328.9" y="995.7" width="12" height="12" fill="#f8ebe2"/>
<rect x="339.9" y="995.7" width="12" height="12" fill="#555555"/>
<rect x="350.9" y="995.7" width="12" height="12" fill="#8a8a8a"/>
<rect x="460.9" y="995.7" width="12" height="12" fill="#a03030"/>
<rect x="130.9" y="1006.7" width="12" height="12" fill="#111111"/>
<rect x="152.9" y="1006.7" width="12" height="12" fill="#e8b490"/>
<rect x="163.9" y="1006.7" width="12" height="12" fill="#555555"/>
<rect x="174.9" y="1006.7" width="12" height="12" fill="#999999"/>
<rect x="240.9" y="1006.7" width="12" height="12" fill="#7a7a7a"/>
<rect x="251.9" y="1006.7" width="12" height="12" fill="#e09870"/>
<rect x="317.9" y="1006.7" width="12" height="12" fill="#7a7a7a"/>
<rect x="328.9" y="1006.7" width="12" height="12" fill="#f8ebe2"/>
<rect x="339.9" y="1006.7" width="12" height="12" fill="#f8ebe2"/>
<rect x="438.9" y="1006.7" width="12" height="12" fill="#f0d2b4"/>
<rect x="449.9" y="1006.7" width="12" height="12" fill="#282828"/>
<rect x="460.9" y="1006.7" width="12" height="12" fill="#282828"/>
<rect x="119.9" y="1017.7" width="12" height="12" fill="#111111"/>
<rect x="141.9" y="1017.7" width="12" height="12" fill="#111111"/>
<rect x="174.9" y="1017.7" width="12" height="12" fill="#c4c4c4"/>
<rect x="185.9" y="1017.7" width="12" height="12" fill="#f8ebe2"/>
<rect x="240.9" y="1017.7" width="12" height="12" fill="#ebebeb"/>
<rect x="251.9" y="1017.7" width="12" height="12" fill="#282828"/>
<rect x="262.9" y="1017.7" width="12" height="12" fill="#ebebeb"/>
<rect x="306.9" y="1017.7" width="12" height="12" fill="#bbbbbb"/>
<rect x="317.9" y="1017.7" width="12" height="12" fill="#dcdcdc"/>
<rect x="394.9" y="1017.7" width="12" height="12" fill="#c87055"/>
<rect x="427.9" y="1017.7" width="12" height="12" fill="#b85540"/>
<rect x="438.9" y="1017.7" width="12" height="12" fill="#111111"/>
<rect x="449.9" y="1017.7" width="12" height="12" fill="#b85540"/>
<rect x="130.9" y="1028.7" width="12" height="12" fill="#111111"/>
<rect x="185.9" y="1028.7" width="12" height="12" fill="#909090"/>
<rect x="218.9" y="1028.7" width="12" height="12" fill="#bbbbbb"/>
<rect x="229.9" y="1028.7" width="12" height="12" fill="#f8ebe2"/>
<rect x="251.9" y="1028.7" width="12" height="12" fill="#a03030"/>
<rect x="262.9" y="1028.7" width="12" height="12" fill="#909090"/>
<rect x="273.9" y="1028.7" width="12" height="12" fill="#dcdcdc"/>
<rect x="284.9" y="1028.7" width="12" height="12" fill="#7a7a7a"/>
<rect x="295.9" y="1028.7" width="12" height="12" fill="#b05040"/>
<rect x="306.9" y="1028.7" width="12" height="12" fill="#7a7a7a"/>
<rect x="394.9" y="1028.7" width="12" height="12" fill="#555555"/>
<rect x="405.9" y="1028.7" width="12" height="12" fill="#f8ebe2"/>
<rect x="427.9" y="1028.7" width="12" height="12" fill="#282828"/>
<rect x="438.9" y="1028.7" width="12" height="12" fill="#aaaaaa"/>
<path d="M131.4 644.2V1040.2M142.4 644.2V1040.2M153.4 644.2V1040.2M164.4 644.2V1040.2M175.4 644.2V1040.2M186.4 644.2V1040.2M197.4 644.2V1040.2M208.4 644.2V1040.2M219.4 644.2V1040.2M230.4 644.2V1040.2M241.4 644.2V1040.2M252.4 644.2V1040.2M263.4 644.2V1040.2M274.4 644.2V1040.2M285.4 644.2V1040.2M296.4 644.2V1040.2M307.4 644.2V1040.2M318.4 644.2V1040.2M329.4 644.2V1040.2M340.4 644.2V1040.2M351.4 644.2V1040.2M362.4 644.2V1040.2M373.4 644.2V1040.2M384.4 644.2V1040.2M395.4 644.2V1040.2M406.4 644.2V1040.2M417.4 644.2V1040.2M428.4 644.2V1040.2M439.4 644.2V1040.2M450.4 644.2V1040.2M461.4 644.2V1040.2M472.4 644.2V1040.2M483.4 644.2V1040.2M494.4 644.2V1040.2M505.4 644.2V1040.2" stroke="#000" stroke-opacity="0.45" stroke-width="0.9" fill="none"/>
<path d="M120.4 655.2H516.4M120.4 666.2H516.4M120.4 677.2H516.4M120.4 688.2H516.4M120.4 699.2H516.4M120.4 710.2H516.4M120.4 721.2H516.4M120.4 732.2H516.4M120.4 743.2H516.4M120.4 754.2H516.4M120.4 765.2H516.4M120.4 776.2H516.4M120.4 787.2H516.4M120.4 798.2H516.4M120.4 809.2H516.4M120.4 820.2H516.4M120.4 831.2H516.4M120.4 842.2H516.4M120.4 853.2H516.4M120.4 864.2H516.4M120.4 875.2H516.4M120.4 886.2H516.4M120.4 897.2H516.4M120.4 908.2H516.4M120.4 919.2H516.4M120.4 930.2H516.4M120.4 941.2H516.4M120.4 952.2H516.4M120.4 963.2H516.4M120.4 974.2H516.4M120.4 985.2H516.4M120.4 996.2H516.4M120.4 1007.2H516.4M120.4 1018.2H516.4M120.4 1029.2H516.4" stroke="#000" stroke-opacity="0.34" stroke-width="0.9" fill="none"/>
<rect x="120.4" y="644.2" width="396" height="396" fill="none" stroke="#000" stroke-width="3.8"/>
<path d="M114.2 649.7H120.4M125.9 1040.2V1046.7M114.2 660.7H120.4M136.9 1040.2V1046.7M114.2 671.7H120.4M147.9 1040.2V1046.7M114.2 682.7H120.4M158.9 1040.2V1046.7M114.2 693.7H120.4M169.9 1040.2V1046.7M114.2 704.7H120.4M180.9 1040.2V1046.7M114.2 715.7H120.4M191.9 1040.2V1046.7M114.2 726.7H120.4M202.9 1040.2V1046.7M114.2 737.7H120.4M213.9 1040.2V1046.7M114.2 748.7H120.4M224.9 1040.2V1046.7M114.2 759.7H120.4M235.9 1040.2V1046.7M114.2 770.7H120.4M246.9 1040.2V1046.7M114.2 781.7H120.4M257.9 1040.2V1046.7M114.2 792.7H120.4M268.9 1040.2V1046.7M114.2 803.7H120.4M279.9 1040.2V1046.7M114.2 814.7H120.4M290.9 1040.2V1046.7M114.2 825.7H120.4M301.9 1040.2V1046.7M114.2 836.7H120.4M312.9 1040.2V1046.7M114.2 847.7H120.4M323.9 1040.2V1046.7M114.2 858.7H120.4M334.9 1040.2V1046.7M114.2 869.7H120.4M345.9 1040.2V1046.7M114.2 880.7H120.4M356.9 1040.2V1046.7M114.2 891.7H120.4M367.9 1040.2V1046.7M114.2 902.7H120.4M378.9 1040.2V1046.7M114.2 913.7H120.4M389.9 1040.2V1046.7M114.2 924.7H120.4M400.9 1040.2V1046.7M114.2 935.7H120.4M411.9 1040.2V1046.7M114.2 946.7H120.4M422.9 1040.2V1046.7M114.2 957.7H120.4M433.9 1040.2V1046.7M114.2 968.7H120.4M444.9 1040.2V1046.7M114.2 979.7H120.4M455.9 1040.2V1046.7M114.2 990.7H120.4M466.9 1040.2V1046.7M114.2 1001.7H120.4M477.9 1040.2V1046.7M114.2 1012.7H120.4M488.9 1040.2V1046.7M114.2 1023.7H120.4M499.9 1040.2V1046.7M114.2 1034.7H120.4M510.9 1040.2V1046.7" stroke="#000" stroke-width="2"/>
<text x="107.8" y="654.05" text-anchor="end" font-family="Liberation Sans" font-weight="bold" font-size="12.4" letter-spacing="0.7" stroke="#000" stroke-width="0.35">V122</text>
<text x="107.8" y="665.05" text-anchor="end" font-family="Liberation Sans" font-weight="bold" font-size="12.4" letter-spacing="0.7" stroke="#000" stroke-width="0.35">L120</text>
<text x="107.8" y="676.05" text-anchor="end" font-family="Liberation Sans" font-weight="bold" font-size="12.4" letter-spacing="0.7" stroke="#000" stroke-width="0.35">T118</text>
<text x="107.8" y="687.05" text-anchor="end" font-family="Liberation Sans" font-weight="bold" font-size="12.4" letter-spacing="0.7" stroke="#000" stroke-width="0.35">Y116</text>
<text x="107.8" y="698.05" text-anchor="end" font-family="Liberation Sans" font-weight="bold" font-size="12.4" letter-spacing="0.7" stroke="#000" stroke-width="0.35">L111</text>
<text x="107.8" y="709.05" text-anchor="end" font-family="Liberation Sans" font-weight="bold" font-size="12.4" letter-spacing="0.7" stroke="#000" stroke-width="0.35">A109</text>
<text x="107.8" y="720.05" text-anchor="end" font-family="Liberation Sans" font-weight="bold" font-size="12.4" letter-spacing="0.7" stroke="#000" stroke-width="0.35">I107</text>
<text x="107.8" y="731.05" text-anchor="end" font-family="Liberation Sans" font-weight="bold" font-size="12.4" letter-spacing="0.7" stroke="#000" stroke-width="0.35">Y105</text>
<text x="107.8" y="742.05" text-anchor="end" font-family="Liberation Sans" font-weight="bold" font-size="12.4" letter-spacing="0.7" stroke="#000" stroke-width="0.35">N98</text>
<text x="107.8" y="753.05" text-anchor="end" font-family="Liberation Sans" font-weight="bold" font-size="12.4" letter-spacing="0.7" stroke="#000" stroke-width="0.35">A97</text>
<text x="107.8" y="764.05" text-anchor="end" font-family="Liberation Sans" font-weight="bold" font-size="12.4" letter-spacing="0.7" stroke="#000" stroke-width="0.35">F95</text>
<text x="107.8" y="775.05" text-anchor="end" font-family="Liberation Sans" font-weight="bold" font-size="12.4" letter-spacing="0.7" stroke="#000" stroke-width="0.35">V93</text>
<text x="107.8" y="786.05" text-anchor="end" font-family="Liberation Sans" font-weight="bold" font-size="12.4" letter-spacing="0.7" stroke="#000" stroke-width="0.35">A91</text>
<text x="107.8" y="797.05" text-anchor="end" font-family="Liberation Sans" font-weight="bold" font-size="12.4" letter-spacing="0.7" stroke="#000" stroke-width="0.35">H88</text>
<text x="107.8" y="808.05" text-anchor="end" font-family="Liberation Sans" font-weight="bold" font-size="12.4" letter-spacing="0.7" stroke="#000" stroke-width="0.35">W79</text>
<text x="107.8" y="819.05" text-anchor="end" font-family="Liberation Sans" font-weight="bold" font-size="12.4" letter-spacing="0.7" stroke="#000" stroke-width="0.35">Y78</text>
<text x="107.8" y="830.05" text-anchor="end" font-family="Liberation Sans" font-weight="bold" font-size="12.4" letter-spacing="0.7" stroke="#000" stroke-width="0.35">T75</text>
<text x="107.8" y="841.05" text-anchor="end" font-family="Liberation Sans" font-weight="bold" font-size="12.4" letter-spacing="0.7" stroke="#000" stroke-width="0.35">I73</text>
<text x="107.8" y="852.05" text-anchor="end" font-family="Liberation Sans" font-weight="bold" font-size="12.4" letter-spacing="0.7" stroke="#000" stroke-width="0.35">V71</text>
<text x="107.8" y="863.05" text-anchor="end" font-family="Liberation Sans" font-weight="bold" font-size="12.4" letter-spacing="0.7" stroke="#000" stroke-width="0.35">Y69</text>
<text x="107.8" y="874.05" text-anchor="end" font-family="Liberation Sans" font-weight="bold" font-size="12.4" letter-spacing="0.7" stroke="#000" stroke-width="0.35">F64</text>
<text x="107.8" y="885.05" text-anchor="end" font-family="Liberation Sans" font-weight="bold" font-size="12.4" letter-spacing="0.7" stroke="#000" stroke-width="0.35">T59</text>
<text x="107.8" y="896.05" text-anchor="end" font-family="Liberation Sans" font-weight="bold" font-size="12.4" letter-spacing="0.7" stroke="#000" stroke-width="0.35">L58</text>
<text x="107.8" y="907.05" text-anchor="end" font-family="Liberation Sans" font-weight="bold" font-size="12.4" letter-spacing="0.7" stroke="#000" stroke-width="0.35">L55</text>
<text x="107.8" y="918.05" text-anchor="end" font-family="Liberation Sans" font-weight="bold" font-size="12.4" letter-spacing="0.7" stroke="#000" stroke-width="0.35">T49</text>
<text x="107.8" y="929.05" text-anchor="end" font-family="Liberation Sans" font-weight="bold" font-size="12.4" letter-spacing="0.7" stroke="#000" stroke-width="0.35">A45</text>
<text x="107.8" y="940.05" text-anchor="end" font-family="Liberation Sans" font-weight="bold" font-size="12.4" letter-spacing="0.7" stroke="#000" stroke-width="0.35">F44</text>
<text x="107.8" y="951.05" text-anchor="end" font-family="Liberation Sans" font-weight="bold" font-size="12.4" letter-spacing="0.7" stroke="#000" stroke-width="0.35">E42</text>
<text x="107.8" y="962.05" text-anchor="end" font-family="Liberation Sans" font-weight="bold" font-size="12.4" letter-spacing="0.7" stroke="#000" stroke-width="0.35">R34</text>
<text x="107.8" y="973.05" text-anchor="end" font-family="Liberation Sans" font-weight="bold" font-size="12.4" letter-spacing="0.7" stroke="#000" stroke-width="0.35">V32</text>
<text x="107.8" y="984.05" text-anchor="end" font-family="Liberation Sans" font-weight="bold" font-size="12.4" letter-spacing="0.7" stroke="#000" stroke-width="0.35">V30</text>
<text x="107.8" y="995.05" text-anchor="end" font-family="Liberation Sans" font-weight="bold" font-size="12.4" letter-spacing="0.7" stroke="#000" stroke-width="0.35">V28</text>
<text x="107.8" y="1006.05" text-anchor="end" font-family="Liberation Sans" font-weight="bold" font-size="12.4" letter-spacing="0.7" stroke="#000" stroke-width="0.35">D18</text>
<text x="107.8" y="1017.05" text-anchor="end" font-family="Liberation Sans" font-weight="bold" font-size="12.4" letter-spacing="0.7" stroke="#000" stroke-width="0.35">V16</text>
<text x="107.8" y="1028.05" text-anchor="end" font-family="Liberation Sans" font-weight="bold" font-size="12.4" letter-spacing="0.7" stroke="#000" stroke-width="0.35">V14</text>
<text x="107.8" y="1039.05" text-anchor="end" font-family="Liberation Sans" font-weight="bold" font-size="12.4" letter-spacing="0.7" stroke="#000" stroke-width="0.35">L12</text>
<text transform="translate(130.3 1053.2) rotate(-90)" text-anchor="end" font-family="Liberation Sans" font-weight="bold" font-size="12.4" letter-spacing="0.7" stroke="#000" stroke-width="0.35">L12</text>
<text transform="translate(141.3 1053.2) rotate(-90)" text-anchor="end" font-family="Liberation Sans" font-weight="bold" font-size="12.4" letter-spacing="0.7" stroke="#000" stroke-width="0.35">V14</text>
<text transform="translate(152.3 1053.2) rotate(-90)" text-anchor="end" font-family="Liberation Sans" font-weight="bold" font-size="12.4" letter-spacing="0.7" stroke="#000" stroke-width="0.35">V16</text>
<text transform="translate(163.3 1053.2) rotate(-90)" text-anchor="end" font-family="Liberation Sans" font-weight="bold" font-size="12.4" letter-spacing="0.7" stroke="#000" stroke-width="0.35">D18</text>
<text transform="translate(174.3 1053.2) rotate(-90)" text-anchor="end" font-family="Liberation Sans" font-weight="bold" font-size="12.4" letter-spacing="0.7" stroke="#000" stroke-width="0.35">V28</text>
<text transform="translate(185.3 1053.2) rotate(-90)" text-anchor="end" font-family="Liberation Sans" font-weight="bold" font-size="12.4" letter-spacing="0.7" stroke="#000" stroke-width="0.35">V30</text>
<text transform="translate(196.3 1053.2) rotate(-90)" text-anchor="end" font-family="Liberation Sans" font-weight="bold" font-size="12.4" letter-spacing="0.7" stroke="#000" stroke-width="0.35">V32</text>
<text transform="translate(207.3 1053.2) rotate(-90)" text-anchor="end" font-family="Liberation Sans" font-weight="bold" font-size="12.4" letter-spacing="0.7" stroke="#000" stroke-width="0.35">R34</text>
<text transform="translate(218.3 1053.2) rotate(-90)" text-anchor="end" font-family="Liberation Sans" font-weight="bold" font-size="12.4" letter-spacing="0.7" stroke="#000" stroke-width="0.35">E42</text>
<text transform="translate(229.3 1053.2) rotate(-90)" text-anchor="end" font-family="Liberation Sans" font-weight="bold" font-size="12.4" letter-spacing="0.7" stroke="#000" stroke-width="0.35">F44</text>
<text transform="translate(240.3 1053.2) rotate(-90)" text-anchor="end" font-family="Liberation Sans" font-weight="bold" font-size="12.4" letter-spacing="0.7" stroke="#000" stroke-width="0.35">A45</text>
<text transform="translate(251.3 1053.2) rotate(-90)" text-anchor="end" font-family="Liberation Sans" font-weight="bold" font-size="12.4" letter-spacing="0.7" stroke="#000" stroke-width="0.35">T49</text>
<text transform="translate(262.3 1053.2) rotate(-90)" text-anchor="end" font-family="Liberation Sans" font-weight="bold" font-size="12.4" letter-spacing="0.7" stroke="#000" stroke-width="0.35">L55</text>
<text transform="translate(273.3 1053.2) rotate(-90)" text-anchor="end" font-family="Liberation Sans" font-weight="bold" font-size="12.4" letter-spacing="0.7" stroke="#000" stroke-width="0.35">L58</text>
<text transform="translate(284.3 1053.2) rotate(-90)" text-anchor="end" font-family="Liberation Sans" font-weight="bold" font-size="12.4" letter-spacing="0.7" stroke="#000" stroke-width="0.35">T59</text>
<text transform="translate(295.3 1053.2) rotate(-90)" text-anchor="end" font-family="Liberation Sans" font-weight="bold" font-size="12.4" letter-spacing="0.7" stroke="#000" stroke-width="0.35">F64</text>
<text transform="translate(306.3 1053.2) rotate(-90)" text-anchor="end" font-family="Liberation Sans" font-weight="bold" font-size="12.4" letter-spacing="0.7" stroke="#000" stroke-width="0.35">Y69</text>
<text transform="translate(317.3 1053.2) rotate(-90)" text-anchor="end" font-family="Liberation Sans" font-weight="bold" font-size="12.4" letter-spacing="0.7" stroke="#000" stroke-width="0.35">V71</text>
<text transform="translate(328.3 1053.2) rotate(-90)" text-anchor="end" font-family="Liberation Sans" font-weight="bold" font-size="12.4" letter-spacing="0.7" stroke="#000" stroke-width="0.35">I73</text>
<text transform="translate(339.3 1053.2) rotate(-90)" text-anchor="end" font-family="Liberation Sans" font-weight="bold" font-size="12.4" letter-spacing="0.7" stroke="#000" stroke-width="0.35">T75</text>
<text transform="translate(350.3 1053.2) rotate(-90)" text-anchor="end" font-family="Liberation Sans" font-weight="bold" font-size="12.4" letter-spacing="0.7" stroke="#000" stroke-width="0.35">Y78</text>
<text transform="translate(361.3 1053.2) rotate(-90)" text-anchor="end" font-family="Liberation Sans" font-weight="bold" font-size="12.4" letter-spacing="0.7" stroke="#000" stroke-width="0.35">W79</text>
<text transform="translate(372.3 1053.2) rotate(-90)" text-anchor="end" font-family="Liberation Sans" font-weight="bold" font-size="12.4" letter-spacing="0.7" stroke="#000" stroke-width="0.35">H88</text>
<text transform="translate(383.3 1053.2) rotate(-90)" text-anchor="end" font-family="Liberation Sans" font-weight="bold" font-size="12.4" letter-spacing="0.7" stroke="#000" stroke-width="0.35">A91</text>
<text transform="translate(394.3 1053.2) rotate(-90)" text-anchor="end" font-family="Liberation Sans" font-weight="bold" font-size="12.4" letter-spacing="0.7" stroke="#000" stroke-width="0.35">V93</text>
<text transform="translate(405.3 1053.2) rotate(-90)" text-anchor="end" font-family="Liberation Sans" font-weight="bold" font-size="12.4" letter-spacing="0.7" stroke="#000" stroke-width="0.35">F95</text>
<text transform="translate(416.3 1053.2) rotate(-90)" text-anchor="end" font-family="Liberation Sans" font-weight="bold" font-size="12.4" letter-spacing="0.7" stroke="#000" stroke-width="0.35">A97</text>
<text transform="translate(427.3 1053.2) rotate(-90)" text-anchor="end" font-family="Liberation Sans" font-weight="bold" font-size="12.4" letter-spacing="0.7" stroke="#000" stroke-width="0.35">N98</text>
<text transform="translate(438.3 1053.2) rotate(-90)" text-anchor="end" font-family="Liberation Sans" font-weight="bold" font-size="12.4" letter-spacing="0.7" stroke="#000" stroke-width="0.35">Y105</text>
<text transform="translate(449.3 1053.2) rotate(-90)" text-anchor="end" font-family="Liberation Sans" font-weight="bold" font-size="12.4" letter-spacing="0.7" stroke="#000" stroke-width="0.35">I107</text>
<text transform="translate(460.3 1053.2) rotate(-90)" text-anchor="end" font-family="Liberation Sans" font-weight="bold" font-size="12.4" letter-spacing="0.7" stroke="#000" stroke-width="0.35">A109</text>
<text transform="translate(471.3 1053.2) rotate(-90)" text-anchor="end" font-family="Liberation Sans" font-weight="bold" font-size="12.4" letter-spacing="0.7" stroke="#000" stroke-width="0.35">L111</text>
<text transform="translate(482.3 1053.2) rotate(-90)" text-anchor="end" font-family="Liberation Sans" font-weight="bold" font-size="12.4" letter-spacing="0.7" stroke="#000" stroke-width="0.35">Y116</text>
<text transform="translate(493.3 1053.2) rotate(-90)" text-anchor="end" font-family="Liberation Sans" font-weight="bold" font-size="12.4" letter-spacing="0.7" stroke="#000" stroke-width="0.35">T118</text>
<text transform="translate(504.3 1053.2) rotate(-90)" text-anchor="end" font-family="Liberation Sans" font-weight="bold" font-size="12.4" letter-spacing="0.7" stroke="#000" stroke-width="0.35">L120</text>
<text transform="translate(515.3 1053.2) rotate(-90)" text-anchor="end" font-family="Liberation Sans" font-weight="bold" font-size="12.4" letter-spacing="0.7" stroke="#000" stroke-width="0.35">V122</text>
<rect x="120.1" y="1088.4" width="42.3" height="5.6" fill="#6a5b9f"/>
<text x="141.25" y="1111" text-anchor="middle" font-family="Liberation Sans" font-weight="bold" font-size="19.4">A</text>
<rect x="66" y="996.9" width="5.2" height="42.1" fill="#6a5b9f"/>
<text transform="translate(60.2 1020.55) rotate(-90)" text-anchor="middle" font-family="Liberation Sans" font-weight="bold" font-size="19.4">A</text>
<rect x="164.1" y="1088.4" width="42.3" height="5.6" fill="#dca033"/>
<text x="185.25" y="1111" text-anchor="middle" font-family="Liberation Sans" font-weight="bold" font-size="19.4">B</text>
<rect x="66" y="952.9" width="5.2" height="42.1" fill="#dca033"/>
<text transform="translate(60.2 976.55) rotate(-90)" text-anchor="middle" font-family="Liberation Sans" font-weight="bold" font-size="19.4">B</text>
<rect x="208.1" y="1088.4" width="42.3" height="5.6" fill="#dca033"/>
<text x="229.25" y="1111" text-anchor="middle" font-family="Liberation Sans" font-weight="bold" font-size="19.4">C</text>
<rect x="66" y="908.9" width="5.2" height="42.1" fill="#dca033"/>
<text transform="translate(60.2 932.55) rotate(-90)" text-anchor="middle" font-family="Liberation Sans" font-weight="bold" font-size="19.4">C</text>
<rect x="252.1" y="1088.4" width="9.3" height="5.6" fill="#6a5b9f"/>
<text x="256.75" y="1111" text-anchor="middle" font-family="Liberation Sans" font-weight="bold" font-size="19.4">D</text>
<rect x="66" y="897.9" width="5.2" height="9.1" fill="#6a5b9f"/>
<text transform="translate(60.2 905.05) rotate(-90)" text-anchor="middle" font-family="Liberation Sans" font-weight="bold" font-size="19.4">D</text>
<rect x="285.1" y="1088.4" width="31.3" height="5.6" fill="#dca033"/>
<text x="300.75" y="1111" text-anchor="middle" font-family="Liberation Sans" font-weight="bold" font-size="19.4">E</text>
<rect x="66" y="842.9" width="5.2" height="31.1" fill="#dca033"/>
<text transform="translate(60.2 861.05) rotate(-90)" text-anchor="middle" font-family="Liberation Sans" font-weight="bold" font-size="19.4">E</text>
<rect x="318.1" y="1088.4" width="42.3" height="5.6" fill="#353535"/>
<text x="339.25" y="1111" text-anchor="middle" font-family="Liberation Sans" font-weight="bold" font-size="19.4">helix</text>
<rect x="66" y="798.9" width="5.2" height="42.1" fill="#353535"/>
<text transform="translate(60.2 822.55) rotate(-90)" text-anchor="middle" font-family="Liberation Sans" font-weight="bold" font-size="19.4">helix</text>
<rect x="373.1" y="1088.4" width="53.3" height="5.6" fill="#dca033"/>
<text x="399.75" y="1111" text-anchor="middle" font-family="Liberation Sans" font-weight="bold" font-size="19.4">F</text>
<rect x="66" y="732.9" width="5.2" height="53.1" fill="#dca033"/>
<text transform="translate(60.2 762.05) rotate(-90)" text-anchor="middle" font-family="Liberation Sans" font-weight="bold" font-size="19.4">F</text>
<rect x="428.1" y="1088.4" width="42.3" height="5.6" fill="#6a5b9f"/>
<text x="449.25" y="1111" text-anchor="middle" font-family="Liberation Sans" font-weight="bold" font-size="19.4">G</text>
<rect x="66" y="688.9" width="5.2" height="42.1" fill="#6a5b9f"/>
<text transform="translate(60.2 712.55) rotate(-90)" text-anchor="middle" font-family="Liberation Sans" font-weight="bold" font-size="19.4">G</text>
<rect x="472.1" y="1088.4" width="42.3" height="5.6" fill="#6a5b9f"/>
<text x="493.25" y="1111" text-anchor="middle" font-family="Liberation Sans" font-weight="bold" font-size="19.4">H</text>
<rect x="66" y="644.9" width="5.2" height="42.1" fill="#6a5b9f"/>
<text transform="translate(60.2 668.55) rotate(-90)" text-anchor="middle" font-family="Liberation Sans" font-weight="bold" font-size="19.4">H</text>
<text x="258.4" y="1136.6" font-family="Liberation Sans" font-weight="bold" font-size="24.5">Residue <tspan dx="1.8" font-style="italic" font-weight="normal">i</tspan></text>
<text transform="translate(31.8 843) rotate(-90)" text-anchor="middle" font-family="Liberation Sans" font-weight="bold" font-size="25.1">Residue <tspan dx="1" font-style="italic" font-weight="normal">j</tspan></text>
<text x="4.3" y="20.8" font-family="Liberation Sans" font-weight="bold" font-size="24">A</text>
<text x="4.3" y="609.7" font-family="Liberation Sans" font-weight="bold" font-size="24">B</text>
<text x="317" y="25.9" text-anchor="middle" font-family="Liberation Sans" font-weight="bold" font-size="27.7">Reference Conformation</text>
<text x="317" y="59.4" text-anchor="middle" font-family="Liberation Sans" font-weight="bold" font-size="27.7">(<tspan font-style="italic">n</tspan>=1)</text>
<text x="326" y="600.3" text-anchor="middle" font-family="Liberation Sans" font-weight="bold" font-size="27.7">MD Simulations</text>
<text x="326.6" y="633.6" text-anchor="middle" font-family="Liberation Sans" font-weight="bold" font-size="27.7">(<tspan font-style="italic">n</tspan>=10.5 x 10<tspan font-size="17" dx="0.7" dy="-9.2">6</tspan><tspan dx="0.6" dy="9.2">)</tspan></text>
<rect x="523" y="69.9" width="20.4" height="198.9" fill="#000"/>
<rect x="523" y="69.9" width="20.4" height="395.8" fill="none" stroke="#000" stroke-width="3.6"/>
<text transform="translate(594.5 168.5) rotate(90) scale(1.015 1.1)" text-anchor="middle" font-family="Liberation Sans" font-weight="bold" font-size="24.7">Contact</text>
<text transform="translate(565 168.5) rotate(90) scale(1.015 1.1)" text-anchor="middle" font-family="Liberation Sans" font-weight="bold" font-size="24.7">Present</text>
<text transform="translate(594.5 366.3) rotate(90) scale(1.015 1.1)" text-anchor="middle" font-family="Liberation Sans" font-weight="bold" font-size="24.7">Contact</text>
<text transform="translate(565 366.3) rotate(90) scale(1.015 1.1)" text-anchor="middle" font-family="Liberation Sans" font-weight="bold" font-size="24.7">Absent</text>
<rect x="523.5" y="644" width="19.6" height="396.1" fill="url(#cb)" stroke="#000" stroke-width="3.6"/>
<path d="M543 644.2H554.5M543 743.2H554.5M543 842.2H554.5M543 941.2H554.5M543 1040.2H554.5" stroke="#000" stroke-width="3.8"/>
<text x="561.3" y="650.8" font-family="Liberation Sans" font-weight="bold" font-size="17.4">100</text>
<text x="561.3" y="749.9" font-family="Liberation Sans" font-weight="bold" font-size="17.4">50</text>
<text x="561.3" y="848.9" font-family="Liberation Sans" font-weight="bold" font-size="17.4">0.0</text>
<text x="561.3" y="947.9" font-family="Liberation Sans" font-weight="bold" font-size="17.4">50</text>
<text x="561.3" y="1046.9" font-family="Liberation Sans" font-weight="bold" font-size="17.4">100</text>
<path d="M592.5 830.8V668" stroke="#000" stroke-width="2.8"/>
<path d="M592.5 656.2L601.8 673.2L592.5 669.8L583.1 673.2Z" fill="#000"/>
<path d="M592.5 856.1V1018" stroke="#000" stroke-width="2.8"/>
<path d="M592.5 1030.3L601.8 1013L592.5 1016.3L582.9 1013Z" fill="#000"/>
<text transform="translate(642 743.5) rotate(90) scale(1.015 1.1)" text-anchor="middle" font-family="Liberation Sans" font-weight="bold" font-size="24.7">Native</text>
<text transform="translate(611.5 743.2) rotate(90) scale(1.015 1.1)" text-anchor="middle" font-family="Liberation Sans" font-weight="bold" font-size="24.7">Contacts (%)</text>
<text transform="translate(642.4 942.4) rotate(90) scale(1.015 1.1)" text-anchor="middle" font-family="Liberation Sans" font-weight="bold" font-size="24.7">Nonnative</text>
<text transform="translate(611.5 942.4) rotate(90) scale(1.015 1.1)" text-anchor="middle" font-family="Liberation Sans" font-weight="bold" font-size="24.7">Contacts (%)</text>
</svg>
</body></html>
